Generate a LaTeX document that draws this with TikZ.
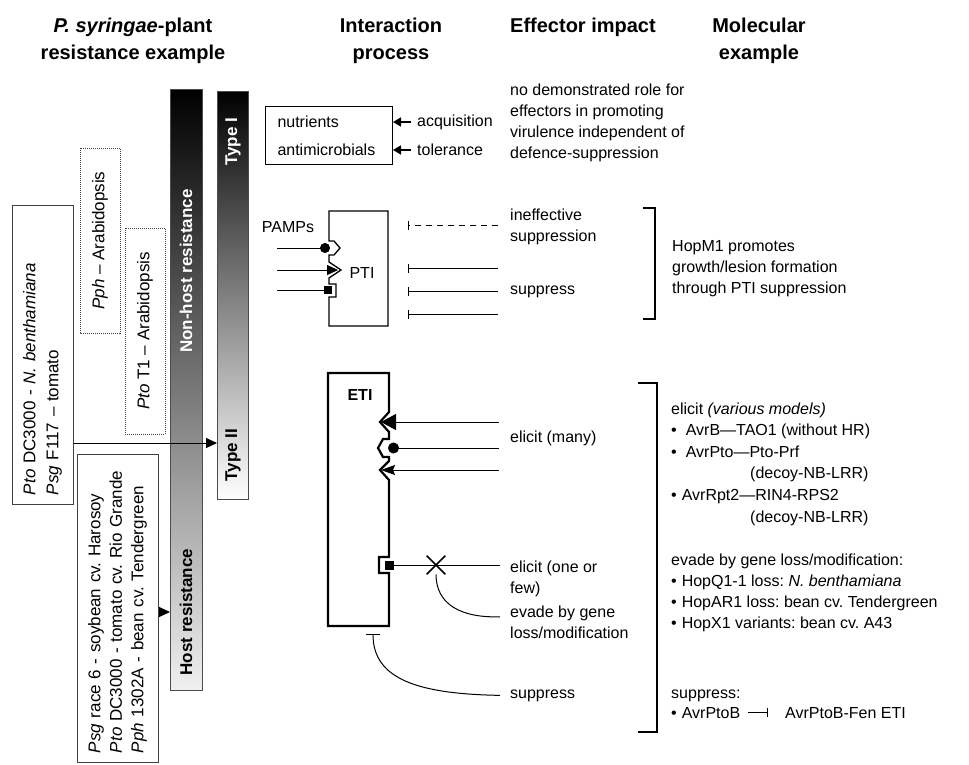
\documentclass[tikz,border=0pt]{standalone}
\usepackage{fontspec}
\setmainfont{Liberation Sans}
\usetikzlibrary{positioning,arrows.meta,shapes.misc}
\frenchspacing

\begin{document}
\begin{tikzpicture}[x=1pt,y=-1pt,
    head/.style={font=\fontsize{20}{27}\selectfont\bfseries, inner sep=0pt, align=center, anchor=base},
    body/.style={font=\fontsize{16}{21}\selectfont, inner sep=0pt, align=left, anchor=base west},
    side/.style={font=\fontsize{17}{23}\selectfont, rotate=90, align=left, draw=black!75, line width=1pt},
    bartext/.style={font=\fontsize{17}{20}\selectfont\bfseries, inner sep=0pt, rotate=90},
    wire/.style={line width=1pt},
    fatarrow/.style={wire, -{Triangle[length=11pt,width=10pt]}},
    heavy/.style={line width=1.6pt, -{Triangle[length=8pt,width=9pt]}},
    blocked/.style={wire, -{Bar[width=9pt]}},
]
    \useasboundingbox (0,0) rectangle (969,764);

    \def\colB{510}% effector impact column
    \def\colC{671}% molecular example column
    % (multi-line nodes sit on the baseline of their last line)

    % Headings
    \node[head] (hA) at (133,59) {\textit{P. syringae}-plant\\resistance example};
    \node[head] (hB) at (391,59) {Interaction\\process};
    \node[head, anchor=base west] (hC) at (\colB,32) {Effector impact};
    \node[head] (hD) at (759,59) {Molecular\\example};

    % Plant resistance examples
    \node[side, minimum width=299, minimum height=61, text width=281, inner xsep=9] (ptobox) at (42.5,354.5)
        {\textit{Pto} DC3000 - \textit{N. benthamiana}\\\textit{Psg} F117 \textendash{} tomato};
    \node[side, densely dotted, minimum width=185, minimum height=40, align=center] (pphbox) at (100,240.5)
        {\textit{Pph} \textendash{} Arabidopsis};
    \node[side, densely dotted, minimum width=206, minimum height=40, align=center] (t1box) at (145,331)
        {\textit{Pto} T1 \textendash{} Arabidopsis};
    \node[side, minimum width=308, minimum height=81, text width=290, inner xsep=9, font=\fontsize{17}{21.5}\selectfont] (hostbox) at (117.5,608)
        {\textit{Psg} race 6 - soybean cv. Harosoy\\\textit{Pto} DC3000 - tomato cv. Rio Grande\\\textit{Pph} 1302A - bean cv. Tendergreen};

    % Resistance bars
    \shadedraw[top color=black, bottom color=black!6, draw=black!70, line width=1pt] (170,89) rectangle (202,690);
    \shadedraw[top color=black, bottom color=white, draw=black!70, line width=1pt] (217,91) rectangle (248,499);
    \node[bartext, white] (nonhost) at (186,271) {Non-host resistance};
    \node[bartext] (host) at (186,612) {Host resistance};
    \node[bartext, white] (type1) at (233,142) {Type I};
    \node[bartext] (type2) at (233,455) {Type II};
    \coordinate (t2in) at (217,443);
    \coordinate (hostin) at (170,612);
    \draw[fatarrow] (ptobox.south |- t2in) -- (t2in);
    \draw[fatarrow] (hostbox.south |- hostin) -- (hostin);

    % Nutrients
    \node[draw, wire, font=\fontsize{16}{28}\selectfont, align=left, anchor=north west, inner xsep=12, inner ysep=0,
        minimum width=127, minimum height=58, text width=103] (nutri) at (265,106) {nutrients\\antimicrobials};
    \node[body, anchor=west, inner xsep=6] (acq) at (411,122) {acquisition};
    \node[body, anchor=west, inner xsep=6] (tol) at (411,150) {tolerance};
    \draw[heavy] (acq.west) -- (nutri.east |- acq.west);
    \draw[heavy] (tol.west) -- (nutri.east |- tol.west);
    \node[body] (norole) at (\colB,158) {no demonstrated role for\\effectors in promoting\\virulence independent of\\defence-suppression};

    % PTI
    \draw[line width=1.3pt] (388,211) -- (329,211) -- (329,241) -- (334,241) -- (340,248) -- (334,255) -- (329,255)
        -- (329,262) -- (341,270) -- (329,278) -- (329,284) -- (336,284) -- (336,297) -- (329,297)
        -- (329,326) -- (388,326) -- cycle;
    \node[body, anchor=center] (pti) at (362,273) {PTI};
    \node[body, anchor=center] (pamps) at (288,227) {PAMPs};
    \coordinate (p1) at (277,248); \coordinate (r1) at (330,248);
    \coordinate (p2) at (277,270); \coordinate (r2) at (338,270);
    \coordinate (p3) at (277,290); \coordinate (r3) at (332,290);
    \draw[wire, -{Circle[length=10pt]}] (p1) -- (r1);
    \draw[wire, -{Triangle[length=11pt,width=10pt]}] (p2) -- (r2);
    \draw[wire, -{Square[length=8pt,width=8pt]}] (p3) -- (r3);

    \coordinate (ef1) at (498,225); \coordinate (et1) at (408,225);
    \draw[blocked, dash pattern=on 6pt off 5pt] (ef1) -- (et1);
    \foreach \i/\y in {2/268,3/291,4/314}
    {
        \coordinate (ef\i) at (498,\y);
        \coordinate (et\i) at (408,\y);
        \draw[blocked] (ef\i) -- (et\i);
    }
    \node[body] (ineff) at (\colB,241) {ineffective\\suppression};
    \node[body] (suppA) at (\colB,294) {suppress};
    \draw[line width=1.4pt] (643,208) -- (655,208) -- (655,319) -- (643,319);
    \node[body] (hopm) at (672,293) {HopM1 promotes\\growth/lesion formation\\through PTI suppression};

    % ETI
    \draw[line width=2.2pt] (389,373) -- (328,373) -- (328,626) -- (389,626) -- (389,573) -- (379,573) -- (379,557) -- (389,557)
        -- (389,480) -- (380,470) -- (389,461) -- (389,457) -- (383,457) -- (378,448) -- (383,439) -- (389,439)
        -- (389,432) -- (380,422) -- (389,412) -- cycle;
    \node[font=\fontsize{16}{20}\selectfont\bfseries, inner sep=0pt] (eti) at (360,395) {ETI};
    \coordinate (s1) at (499,422); \coordinate (k1) at (381,422);
    \coordinate (s2) at (499,448); \coordinate (k2) at (388,448);
    \coordinate (s3) at (499,470); \coordinate (k3) at (381,470);
    \draw[wire, -{Triangle[length=15pt,width=16pt]}] (s1) -- (k1);
    \draw[wire, -{Circle[length=11pt]}] (s2) -- (k2);
    \draw[wire, -{Stealth[length=14pt,width=10pt,inset=2pt]}] (s3) -- (k3);
    \node[body] (elicitA) at (\colB,442) {elicit (many)};

    \coordinate (s4) at (500,565); \coordinate (k4) at (385,565);
    \draw[wire, -{Square[length=9pt,width=9pt]}] (s4) -- (k4);
    \node[cross out, draw, line width=1.6pt, minimum size=17pt, inner sep=0pt] (lost) at (436,565) {};
    \node[body] (elicitB) at (\colB,593) {elicit (one or\\few)};
    \node[body, inner xsep=10] (evade) at (500,638) {evade by gene\\loss/modification};
    \draw[wire] (lost.south) .. controls (436,605) and (462,618) .. ([yshift=5pt]evade.west);
    \node[body, inner xsep=10] (suppB) at (500,698) {suppress};
    \coordinate (etibar) at (373,634);
    \draw[wire, -{Bar[width=14pt]}] (suppB.west) .. controls (420,694) and (373,680) .. (etibar);

    % Molecular examples for ETI
    \draw[line width=1.4pt] (638,383) -- (657,383) -- (657,732) -- (638,732);
    \node[body, font=\fontsize{16}{21.6}\selectfont] (elicitC) at (\colC,522) {elicit \textit{(various models)}\\
        \textbullet\hspace{9pt}AvrB\textemdash TAO1 (without HR)\\
        \textbullet\hspace{9pt}AvrPto\textemdash Pto-Prf\\
        \hspace*{79pt}(decoy-NB-LRR)\\
        \textbullet\hspace{5pt}AvrRpt2\textemdash RIN4-RPS2\\
        \hspace*{79pt}(decoy-NB-LRR)};
    \node[body] (evadeC) at (\colC,628) {evade by gene loss/modification:\\
        \textbullet\hspace{5pt}HopQ1-1 loss: \textit{N. benthamiana}\\
        \textbullet\hspace{5pt}HopAR1 loss: bean cv. Tendergreen\\
        \textbullet\hspace{5pt}HopX1 variants: bean cv. A43};
    \node[body] (suppC) at (\colC,698) {suppress:};
    \node[body] (avrptob) at (\colC,718) {\textbullet\hspace{5pt}AvrPtoB};
    \node[body] (fen) at (785,718) {AvrPtoB-Fen ETI};
    \draw[wire, -{Bar[width=9pt]}] ([xshift=8pt]avrptob.east) -- ([xshift=-17pt]fen.west);
\end{tikzpicture}
\end{document}
